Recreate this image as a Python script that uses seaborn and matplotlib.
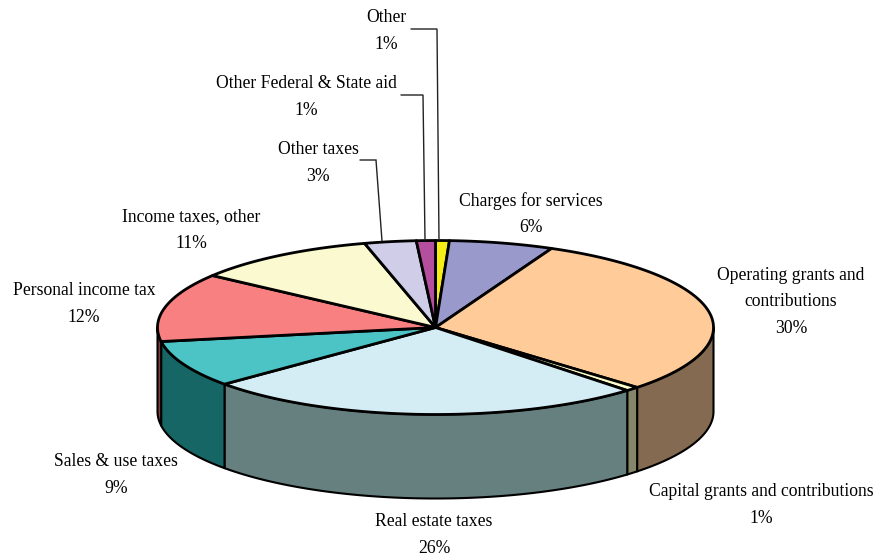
import numpy as np
import matplotlib
matplotlib.use("Agg")
import matplotlib.pyplot as plt
import seaborn as sns

categories = ["Other", "Charges for services", "Operating grants and\ncontributions",
              "Capital grants and contributions", "Real estate taxes", "Sales & use taxes",
              "Personal income tax", "Income taxes, other", "Other taxes",
              "Other Federal & State aid"]
shares = [0.8, 6.05, 30.2, 0.8, 25.8, 8.7, 12.75, 10.7, 3.0, 1.1]
pct_labels = ["1%", "6%", "30%", "1%", "26%", "9%", "12%", "11%", "3%", "1%"]
top_colors = ["#F6EC18", "#9999CC", "#FFCC99", "#FFFFCC", "#D4EDF4", "#4CC4C6",
              "#F98080", "#FAF9CF", "#CFCDE8", "#B44E9E"]
side_colors = ["#7B7610", "#4D4D66", "#836A50", "#86876A", "#667F7F", "#176666",
               "#7F4040", "#7D7C68", "#686774", "#5A274F"]
label_xy = [(386, 31), (531, 214), (791, 302), (761, 505), (434, 535), (116, 475),
            (84, 304), (191, 230), (318, 163), (306, 97)]
leaders = {0: ([411, 437, 439], [29, 29, 240]),
           9: ([401, 423, 425], [95, 95, 240]),
           8: ([360, 376, 382], [160, 160, 241])}

cx, cy, rx, ry, depth = 435.5, 327.5, 278, 87, 84

sns.set_theme(style="white", rc={"font.family": ["Liberation Serif", "DejaVu Serif"]})
fig = plt.figure(figsize=(8.8, 5.57), dpi=100, facecolor="white")
ax = fig.add_axes([0, 0, 1, 1])
ax.set_xlim(0, 880)
ax.set_ylim(557, 0)
ax.axis("off")

def rim(a0, a1, n=120):
    t = np.radians(np.linspace(a0, a1, n))
    return cx + rx * np.sin(t), cy - ry * np.cos(t)

edges = np.concatenate([[0], np.cumsum(shares)]) / np.sum(shares) * 360
lw = 2.0

# visible outer wall: left and right of the front, drawn before the top faces
for i in range(len(shares)):
    a0, a1 = max(edges[i], 90), min(edges[i + 1], 270)
    if a1 <= a0:
        continue
    x, y = rim(a0, a1)
    ax.fill(np.r_[x, x[::-1]], np.r_[y, y[::-1] + depth], facecolor=side_colors[i],
            edgecolor="black", lw=1.5, joinstyle="round", zorder=2)

# top faces
for i in range(len(shares)):
    x, y = rim(edges[i], edges[i + 1])
    ax.fill(np.r_[cx, x], np.r_[cy, y], facecolor=top_colors[i], edgecolor="black",
            lw=lw, joinstyle="round", zorder=3)

# leader lines
for i, (lx, ly) in leaders.items():
    ax.plot(lx, ly, color="#222222", lw=1.0, zorder=4, solid_joinstyle="miter")

# labels
for name, pct, (lx, ly) in zip(categories, pct_labels, label_xy):
    ax.text(lx, ly, f"{name}\n{pct}", ha="center", va="center", fontsize=12.7,
            linespacing=1.72, color="black", zorder=5)

sns.despine(ax=ax, left=True, bottom=True)
fig.savefig("out.png", dpi=100, facecolor="white")
